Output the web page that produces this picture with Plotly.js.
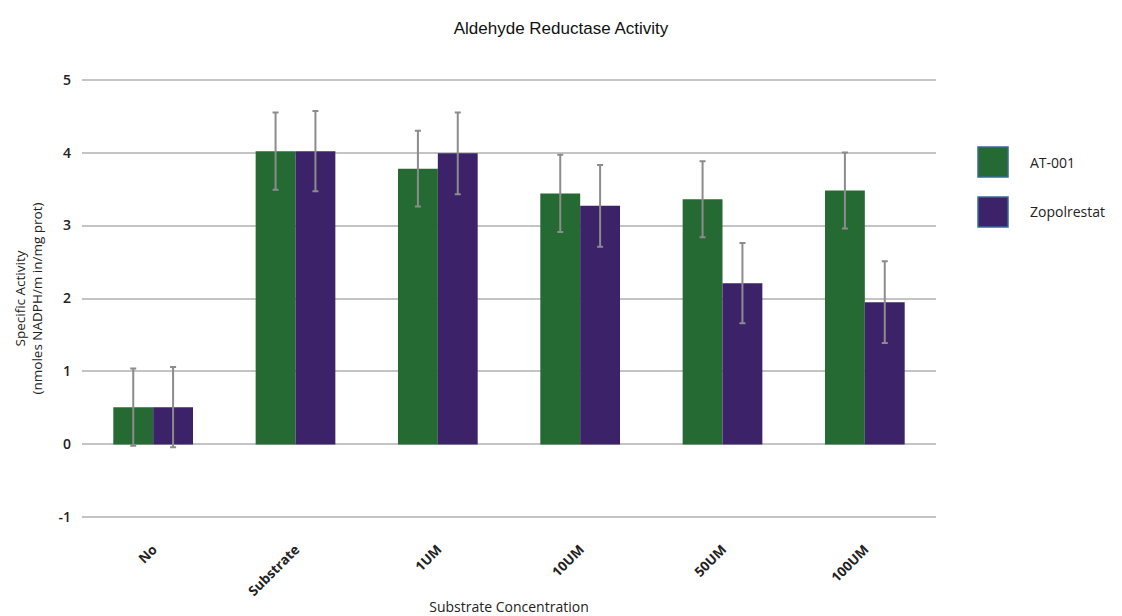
<!DOCTYPE html>
<html>
<head>
<meta charset="utf-8">
<script src="https://cdn.plot.ly/plotly-3.0.1.min.js"></script>
<style>html,body{margin:0;padding:0;background:#fff;}#chart{width:1122px;height:616px;}</style>
</head>
<body>
<div id="chart"></div>
<script>
const categories = ["No", "Substrate", "1UM", "10UM", "50UM", "100UM"];
const seriesNames = ["AT-001", "Zopolrestat"];
const at001 = [0.51, 4.02, 3.78, 3.44, 3.36, 3.48];
const at001Err = [0.53, 0.53, 0.52, 0.53, 0.52, 0.52];
const zopolrestat = [0.51, 4.02, 3.99, 3.27, 2.21, 1.95];
const zopolrestatErr = [0.55, 0.55, 0.56, 0.56, 0.55, 0.56];
const yTicks = [-1, 0, 1, 2, 3, 4, 5];

const colors = ["#256a32", "#3b2269"];
const font = "Open Sans, Lato, sans-serif";

function barTrace(name, y, err, color) {
  return {
    type: "bar", name: name, x: categories, y: y,
    marker: {color: color, line: {width: 0}},
    error_y: {type: "data", array: err, visible: true, color: "#8c8c8c", thickness: 2, width: 3},
    showlegend: false
  };
}

const data = [
  barTrace(seriesNames[0], at001, at001Err, colors[0]),
  barTrace(seriesNames[1], zopolrestat, zopolrestatErr, colors[1])
];

const PT = 76, PH = 445;
const shapes = [];
const annotations = [];
seriesNames.forEach((n, i) => {
  const yTop = 147 + i * 50;
  shapes.push({type: "rect", xref: "paper", yref: "paper",
    x0: (978 - 82) / 854, x1: (1008 - 82) / 854,
    y0: (PT + PH - (yTop + 30)) / PH, y1: (PT + PH - yTop) / PH,
    fillcolor: colors[i], line: {color: "#3a6a9a", width: 1.5}});
  annotations.push({xref: "paper", yref: "paper", x: (1028 - 82) / 854, y: (PT + PH - (yTop + 15)) / PH,
    text: n, showarrow: false, xanchor: "left", yanchor: "middle",
    font: {family: font, size: 14, color: "#222"}});
});

const layout = {
  width: 1122, height: 616,
  paper_bgcolor: "#fff", plot_bgcolor: "#fff",
  margin: {l: 82, r: 186, t: PT, b: 616 - PT - PH},
  title: {text: "Aldehyde Reductase Activity", x: 0.5, xanchor: "center", y: 0.955, yanchor: "middle",
    font: {family: "Liberation Sans, Arial, sans-serif", size: 17, color: "#111"}},
  barmode: "group", bargap: 0.44, bargroupgap: 0,
  xaxis: {
    tickangle: -45, tickfont: {family: font, size: 13.5, color: "#222", weight: "bold"},
    showgrid: false, showline: false, ticks: "", ticklen: 0,
    ticklabelstandoff: 17,
    title: {text: "Substrate Concentration", font: {family: font, size: 14, color: "#222"}, standoff: 14}
  },
  yaxis: {
    range: [-1.05, 5.05], tickvals: yTicks, ticktext: yTicks.map(String),
    showgrid: true, gridcolor: "#c4c4c4", gridwidth: 2,
    zeroline: true, zerolinecolor: "#c4c4c4", zerolinewidth: 2,
    showline: false, ticks: "", tickfont: {family: font, size: 14, color: "#222", weight: 600},
    ticklabelstandoff: 10,
    title: {text: "Specific Activity<br>(nmoles NADPH/m in/mg prot)", font: {family: font, size: 13.5, color: "#222"}, standoff: 12}
  },
  shapes: shapes,
  annotations: annotations
};

Plotly.newPlot("chart", data, layout, {displayModeBar: false, staticPlot: true});
</script>
</body>
</html>
